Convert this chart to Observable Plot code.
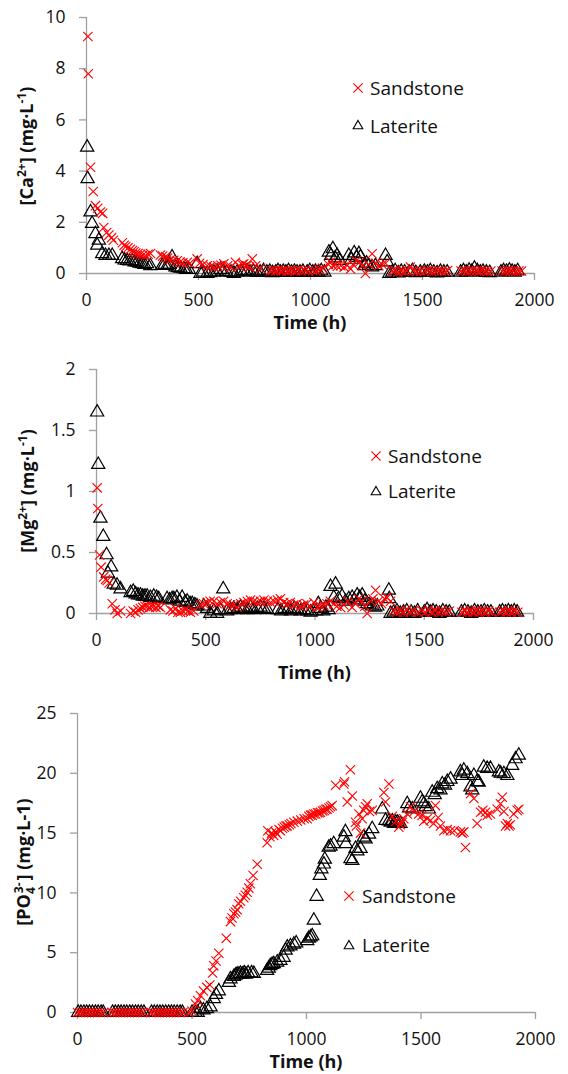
<!DOCTYPE html>
<html><head><meta charset="utf-8">
<script src="https://cdn.jsdelivr.net/npm/d3@7"></script>
<script src="https://cdn.jsdelivr.net/npm/@observablehq/plot@0.6"></script>
<style>
body{margin:0;background:#fff;}
#wrap{position:relative;width:568px;height:1074px;font-family:"Open Sans",sans-serif;}
#wrap > svg{position:absolute;left:0;}
</style></head><body><div id="wrap"></div>
<script>
const xTicks = [0, 500, 1000, 1500, 2000];
const caTicks = [0, 2, 4, 6, 8, 10];
const mgTicks = [0, 0.5, 1, 1.5, 2];
const poTicks = [0, 5, 10, 15, 20, 25];
const seriesNames = ["Sandstone", "Laterite"];

// [time (h), concentration (mg/L)]
const caSandstone = [[6,9.26],[8,7.8],[18,4.15],[30,3.2],[40,2.65],[50,2.55],[62,2.4],[72,2.35],[77,1.8],[90,1.6],[100,1.5],[112,1.4],[120,1.3],
[160,1.2],[168,1.1],[175,1.05],[185,1.0],[196,0.95],[205,0.9],[212,0.85],[220,0.8],[230,0.78],[241,0.75],[252,0.72],[263,0.7],[275,0.75],[286,0.78],
[330,0.72],[340,0.68],[353,0.65],[362,0.6],[375,0.55],[390,0.52],[405,0.5],[418,0.45],[430,0.42],[450,0.44],[462,0.4],
[494,0.57],[505,0.4],[520,0.35],[539,0.3],[555,0.28],[569,0.25],[585,0.3],[600,0.32],[613,0.38],[630,0.3],[645,0.25],[665,0.44],[680,0.3],[695,0.35],[702,0.38],[715,0.3],[728,0.25],[740,0.57],[755,0.3],[777,0.2],
[820,0.1],[832,0.12],[845,0.1],[858,0.14],[870,0.1],[880,0.12],[895,0.08],[905,0.1],[918,0.12],[930,0.1],[945,0.14],[960,0.1],[975,0.12],[990,0.1],[1010,0.12],[1025,0.1],[1040,0.15],[1055,0.2],
[1080,0.35],[1090,0.45],[1100,0.3],[1112,0.35],[1120,0.28],[1135,0.3],[1150,0.25],[1165,0.32],[1179,0.18],[1190,0.35],[1205,0.5],[1220,0.45],[1232,0.3],[1245,0.0],[1260,0.35],[1275,0.77],[1290,0.4],[1305,0.3],[1320,0.35],[1335,0.4],
[1365,0.1],[1378,0.12],[1390,0.05],[1405,0.1],[1418,0.08],[1430,0.12],[1446,0.25],[1460,0.1],[1475,0.08],[1490,0.1],[1510,0.1],[1525,0.12],[1540,0.08],[1555,0.1],[1570,0.12],[1585,0.1],[1600,0.08],[1612,0.12],
[1672,0.1],[1685,0.12],[1698,0.08],[1712,0.1],[1725,0.12],[1740,0.1],[1752,0.08],[1765,0.12],[1778,0.1],[1790,0.08],[1805,0.1],
[1855,0.1],[1868,0.08],[1880,0.12],[1892,0.1],[1905,0.1],[1918,0.08],[1930,0.1],[1942,0.1]];

const caLaterite = [[3,4.93],[5,3.7],[18,2.4],[25,1.95],[40,1.55],[48,1.1],[55,1.3],[70,0.77],[85,0.7],[100,0.7],[115,0.7],
[159,0.57],[170,0.52],[181,0.5],[192,0.48],[204,0.5],[215,0.45],[226,0.44],[237,0.4],[248,0.38],[259,0.35],[270,0.38],[285,0.3],
[338,0.31],[349,0.35],[360,0.31],[370,0.35],[382,0.64],[397,0.25],[408,0.22],[420,0.2],[435,0.18],[445,0.15],[457,0.15],
[494,0.38],[509,0.0],[520,0.05],[539,0.0],[552,0.03],[569,0.05],[582,0.08],[598,0.15],[610,0.08],[625,0.05],[645,0.05],[658,0.0],[672,0.05],[690,0.08],[705,0.1],[717,0.1],[730,0.05],[745,0.08],[760,0.05],
[775,0.05],[790,0.1],[805,0.05],[818,0.08],[830,0.03],[845,0.05],[855,0.1],
[865,0.05],[878,0.08],[890,0.05],[902,0.1],[915,0.05],[928,0.08],[940,0.05],[953,0.05],[966,0.08],[985,0.05],[997,0.1],[1010,0.05],[1022,0.08],[1035,0.05],[1048,0.1],[1062,0.05],
[1082,0.83],[1092,0.7],[1100,0.96],[1110,0.6],[1119,0.7],[1130,0.5],[1171,0.7],[1183,0.55],[1195,0.8],[1205,0.62],[1216,0.77],[1223,0.64],[1240,0.3],[1250,0.4],[1260,0.31],[1275,0.25],[1290,0.3],[1335,0.7],[1342,0.45],
[1352,0.0],[1365,0.05],[1378,0.1],[1392,0.02],[1405,0.08],[1420,0.05],[1440,0.05],[1455,0.1],[1470,0.03],[1490,0.05],[1508,0.08],[1522,0.05],[1535,0.1],[1550,0.05],[1565,0.02],[1580,0.08],[1595,0.05],[1610,0.05],
[1670,0.05],[1683,0.1],[1695,0.05],[1708,0.12],[1720,0.08],[1732,0.2],[1745,0.1],[1758,0.05],[1770,0.08],[1785,0.05],[1800,0.03],
[1850,0.05],[1862,0.1],[1875,0.08],[1888,0.12],[1900,0.08],[1912,0.05],[1925,0.1]];

const mgSandstone = [[3,1.03],[6,0.86],[14,0.48],[21,0.38],[33,0.3],[42,0.28],[49,0.27],[58,0.25],[72,0.08],[85,0.03],[95,0.0],[110,0.02],
[156,0.0],[168,0.02],[179,0.01],[190,0.03],[201,0.04],[212,0.05],[222,0.06],[232,0.06],[242,0.05],[252,0.06],[262,0.06],[272,0.05],[283,0.06],[293,0.05],
[338,0.03],[350,0.02],[362,0.04],[373,0.01],[384,0.01],[396,0.02],[408,0.03],[420,0.02],[430,0.01],[445,0.02],
[476,0.07],[490,0.08],[506,0.09],[520,0.1],[537,0.1],[552,0.08],[567,0.09],[582,0.1],[598,0.08],[613,0.07],[628,0.07],[645,0.05],[660,0.08],[675,0.09],[690,0.1],[705,0.11],[720,0.1],[736,0.09],[751,0.1],[766,0.11],[782,0.1],[797,0.09],[812,0.1],[828,0.11],[842,0.12],[857,0.09],[872,0.08],[887,0.09],[902,0.07],[918,0.08],[933,0.06],[948,0.07],[963,0.08],[978,0.06],[995,0.09],[1010,0.05],[1025,0.06],[1040,0.07],[1055,0.08],[1070,0.1],[1086,0.08],[1100,0.06],[1117,0.05],[1132,0.07],[1150,0.1],[1170,0.05],[1185,0.08],[1200,0.12],[1215,0.1],[1228,0.06],[1239,0.0],[1255,0.1],[1265,0.12],[1277,0.19],[1290,0.1],[1305,0.08],[1318,0.12],[1330,0.13],[1346,0.1],
[1360,0.02],[1375,0.01],[1391,0.02],[1405,0.01],[1420,0.03],[1435,0.01],[1450,0.02],[1470,0.01],[1490,0.02],[1505,0.01],[1520,0.03],[1535,0.01],[1550,0.02],[1565,0.01],[1580,0.02],[1598,0.01],[1615,0.02],
[1672,0.01],[1685,0.02],[1698,0.01],[1712,0.02],[1725,0.01],[1738,0.02],[1752,0.01],[1765,0.02],[1780,0.01],[1795,0.02],[1810,0.01],
[1846,0.01],[1860,0.02],[1874,0.01],[1888,0.02],[1900,0.01],[1914,0.02],[1928,0.01]];

const mgLaterite = [[3,1.65],[8,1.22],[18,0.78],[31,0.63],[46,0.48],[52,0.33],[67,0.38],[79,0.24],[94,0.23],[110,0.2],
[156,0.17],[168,0.18],[179,0.16],[190,0.15],[201,0.15],[212,0.14],[222,0.14],[232,0.14],[247,0.13],[262,0.14],[275,0.13],[285,0.12],
[323,0.12],[335,0.11],[346,0.12],[354,0.12],[368,0.13],[380,0.1],[392,0.13],[405,0.09],[415,0.1],[428,0.08],[438,0.08],[450,0.07],[460,0.06],
[491,0.06],[506,0.04],[521,0.0],[537,0.02],[552,0.0],[566,0.03],[580,0.2],[598,0.02],[613,0.03],[628,0.04],[645,0.03],[659,0.05],[675,0.04],[690,0.03],[705,0.05],[720,0.03],[736,0.04],[751,0.05],[766,0.04],[782,0.03],
[830,0.03],[845,0.02],[860,0.04],[875,0.03],[890,0.02],[905,0.04],[920,0.03],[935,0.02],[950,0.03],[965,0.02],[980,0.01],
[1005,0.02],[1015,0.08],[1025,0.04],[1038,0.02],[1050,0.05],[1062,0.03],[1071,0.22],[1086,0.13],[1094,0.24],[1108,0.12],[1124,0.14],[1140,0.1],[1155,0.12],[1170,0.13],[1180,0.11],[1193,0.15],[1205,0.13],[1216,0.15],[1228,0.1],[1239,0.08],[1250,0.07],[1262,0.06],[1275,0.05],[1285,0.06],[1338,0.19],[1340,0.12],[1346,0.0],
[1360,0.01],[1375,0.02],[1390,0.0],[1405,0.01],[1420,0.02],[1440,0.01],[1455,0.0],[1470,0.02],[1500,0.01],[1513,0.03],[1527,0.01],[1540,0.02],[1555,0.01],[1570,0.0],[1585,0.02],[1600,0.01],[1615,0.01],
[1670,0.01],[1685,0.02],[1700,0.01],[1715,0.0],[1730,0.02],[1745,0.01],[1760,0.01],[1775,0.02],[1790,0.01],[1805,0.01],
[1845,0.01],[1858,0.02],[1872,0.01],[1885,0.02],[1898,0.01],[1912,0.02],[1925,0.01]];

const poSandstone = [[0,0],[12,0],[25,0],[38,0],[50,0],[62,0],[75,0],[88,0],[100,0],[115,0],
[150,0],[162,0],[175,0],[188,0],[200,0],[212,0],[225,0],[238,0],[250,0],[262,0],[275,0],[288,0],
[320,0],[332,0],[345,0],[358,0],[370,0],[382,0],[395,0],[408,0],[420,0],[432,0],[445,0],[460,0],
[485,0],[500,0.1],[515,0.7],[525,1.0],[537,1.4],[550,1.8],[565,2.1],[578,2.3],[590,3.3],[595,3.9],[605,4.3],[617,4.96],[650,6.2],
[668,7.6],[675,7.9],[683,8.25],[690,8.4],[697,8.6],[704,9.1],[712,9.3],[726,9.6],[733,9.8],[741,10.06],[748,10.4],[755,10.76],[767,11.45],[785,12.4],
[828,14.2],[831,15.2],[840,14.7],[848,15.0],[857,14.8],[865,15.1],[872,14.9],[880,15.3],[886,15.2],[895,15.4],[903,15.5],[910,15.6],[916,15.6],[925,15.7],[932,15.8],[945,15.9],[960,16.0],[975,16.1],[990,16.2],[1003,16.2],[1010,16.4],[1018,16.5],[1025,16.5],[1032,16.6],[1040,16.6],[1048,16.7],[1055,16.7],[1061,16.75],[1070,16.85],[1077,16.9],[1084,17.0],[1090,17.0],[1098,17.1],[1105,17.2],[1112,17.3],
[1127,19.0],[1163,19.1],[1166,19.3],[1178,17.6],[1192,20.3],[1200,18.1],[1214,15.9],[1218,15.6],[1229,16.6],[1236,15.0],[1243,16.2],[1250,16.9],[1258,17.2],[1265,17.45],[1275,16.8],[1287,16.9],
[1338,18.4],[1345,17.6],[1360,19.1],[1375,16.4],[1390,16.0],[1403,15.5],[1410,15.7],[1418,15.9],[1425,16.2],[1440,16.6],[1454,17.2],[1470,16.8],[1490,16.6],[1505,16.5],[1512,16.0],[1527,16.2],[1541,16.05],[1555,15.8],[1563,17.3],[1575,16.3],[1585,15.6],[1600,15.2],[1615,15.3],[1629,15.2],[1645,15.2],
[1672,15.1],[1680,15.0],[1687,15.1],[1694,13.8],[1716,18.3],[1731,17.9],[1745,15.8],[1760,16.75],[1770,16.9],[1782,16.75],[1790,16.5],[1803,16.6],
[1833,17.0],[1847,17.45],[1855,18.0],[1862,16.8],[1869,15.6],[1877,15.8],[1884,15.6],[1890,15.7],[1905,16.6],[1920,16.9],[1927,17.0]];

const poLaterite = [[3,0],[15,0],[28,0],[40,0],[52,0],[65,0],[78,0],[90,0],[103,0],[112,0],
[153,0],[165,0],[178,0],[190,0],[203,0],[215,0],[228,0],[240,0],[253,0],[265,0],[278,0],[290,0],
[323,0],[335,0],[348,0],[360,0],[372,0],[385,0],[398,0],[410,0],[422,0],[435,0],[448,0],[458,0],
[500,0],[515,0],[525,0],[537,0.3],[550,0.2],[565,0.3],[581,0.45],[595,1.15],[605,1.5],[617,1.8],
[661,2.5],[668,2.8],[683,3.0],[690,3.1],[697,3.2],[705,3.2],[712,3.25],[720,3.2],[728,3.3],[735,3.2],[745,3.3],[760,3.3],[770,3.25],
[828,3.5],[835,3.7],[842,3.9],[850,4.0],[857,4.07],[872,4.2],[886,4.35],[900,4.6],[909,5.2],[916,5.46],[930,5.55],[945,5.7],[955,5.8],
[1003,6.0],[1010,6.2],[1018,6.3],[1025,6.4],[1032,7.7],[1044,9.7],[1058,11.45],[1065,12.0],[1076,12.4],[1080,12.8],[1097,13.8],[1105,13.9],[1119,14.1],
[1163,14.65],[1170,15.1],[1172,14.1],[1192,12.85],[1200,12.7],[1214,13.7],[1222,13.5],[1236,13.7],[1250,14.65],[1258,14.5],[1273,14.9],[1287,15.35],
[1331,17.0],[1345,16.05],[1360,16.0],[1368,15.9],[1375,16.0],[1382,15.8],[1390,15.9],[1398,15.9],[1410,15.8],[1440,17.45],[1448,17.1],[1462,17.0],
[1498,17.9],[1505,17.6],[1513,17.45],[1520,17.2],[1534,17.0],[1549,18.4],[1560,18.2],[1571,18.7],[1585,18.6],[1593,19.1],[1605,19.0],[1615,19.3],[1629,19.5],
[1672,20.1],[1680,19.8],[1687,20.25],[1702,19.95],[1716,18.85],[1724,18.6],[1731,19.8],[1745,19.3],[1752,19.25],[1774,20.5],[1789,20.4],[1803,20.4],
[1840,20.1],[1848,20.0],[1862,19.95],[1877,19.8],[1898,20.65],[1913,21.2],[1927,21.5]];

const RED = "#ff0000", AXIS = "#a0a0a0";
const wrap = d3.select("#wrap");

function addLabelParts(textSel, parts) {
  let shift = 0;
  for (const [t, kind, dx] of parts) {
    const ts = textSel.append("tspan").text(t);
    let target = 0;
    if (kind === "sup") { target = -7; ts.attr("font-size", 12); }
    else if (kind === "sub") { target = 5; ts.attr("font-size", 12); }
    ts.attr("dy", target - shift);
    if (dx) ts.attr("dx", dx);
    shift = target;
  }
}

function panel(o) {
  const chart = Plot.plot({
    width: 568, height: o.height,
    marginTop: o.mt, marginBottom: o.mb, marginLeft: o.ml, marginRight: o.mr,
    style: {fontFamily: "Open Sans", fontSize: "17.5px", color: "#111", background: "transparent", overflow: "visible"},
    x: {domain: [0, 2000], label: null},
    y: {domain: [0, o.yMax], label: null},
    marks: [
      Plot.axisX({ticks: xTicks, tickSize: 7, tickPadding: 13, stroke: AXIS, strokeWidth: 1.3, label: null, tickFormat: d => String(d)}),
      Plot.axisY({ticks: o.yTicks, tickSize: 7, tickPadding: 14, stroke: AXIS, strokeWidth: 1.3, label: null, tickFormat: d => String(d)}),
      Plot.ruleY([0], {stroke: AXIS, strokeWidth: 1.3}),
      Plot.ruleX([0], {stroke: AXIS, strokeWidth: 1.3}),
      Plot.dot(o.lat, {x: d => d[0], y: d => d[1], symbol: "triangle", r: 4.9, stroke: "#000", fill: "none", strokeWidth: 1.2}),
      Plot.dot(o.sand, {x: d => d[0], y: d => d[1], symbol: "times", r: 4.3, stroke: RED, strokeWidth: 1.1})
    ]
  });
  const svg = d3.select(chart).style("top", o.top + "px");
  const yl = svg.append("text")
    .attr("transform", `translate(${o.ylx},${o.yly}) rotate(-90)`)
    .attr("text-anchor", "middle").attr("font-weight", "bold").attr("font-size", 18).attr("fill", "#111");
  addLabelParts(yl, o.ylabel);
  svg.append("text").attr("x", (o.ml + 568 - o.mr) / 2).attr("y", o.xly)
    .attr("text-anchor", "middle").attr("font-weight", "bold").attr("font-size", 18).attr("fill", "#111")
    .text("Time (h)");
  const lg = svg.append("g").attr("text-anchor", "start");
  const sym = [d3.symbolTimes, d3.symbolTriangle2];
  const sizes = [4.3, 4.6];
  o.legend.forEach(([sx, sy, tx, ty], i) => {
    const r = sizes[i];
    lg.append("path").attr("transform", `translate(${sx},${sy})`)
      .attr("d", d3.symbol(sym[i], r * r * Math.PI)())
      .attr("fill", "none").attr("stroke", i === 0 ? RED : "#000").attr("stroke-width", 1.1);
    lg.append("text").attr("x", tx).attr("y", ty).attr("text-anchor", "start")
      .attr("font-size", 19).attr("fill", "#111").text(seriesNames[i]);
  });
  wrap.node().appendChild(chart);
}

panel({top: 0, height: 345, mt: 17, mb: 72, ml: 86, mr: 34, yMax: 10, yTicks: caTicks,
  sand: caSandstone, lat: caLaterite, ylx: 33, yly: 146, xly: 329,
  ylabel: [["[Ca","n"],["2+","sup"],["] (mg·L","n"],["-1","sup"],[")","n"]],
  legend: [[358,88,370,95],[358,126,370,133]]});

panel({top: 345, height: 340, mt: 24, mb: 72, ml: 96, mr: 35, yMax: 2, yTicks: mgTicks,
  sand: mgSandstone, lat: mgLaterite, ylx: 34, yly: 146, xly: 334,
  ylabel: [["[Mg","n"],["2+","sup"],["] (mg·L","n"],["-1","sup"],[")","n"]],
  legend: [[376,111,388,118],[376,147,388,153]]});

panel({top: 685, height: 389, mt: 28, mb: 62, ml: 77, mr: 33, yMax: 25, yTicks: poTicks,
  sand: poSandstone, lat: poLaterite, ylx: 30, yly: 177, xly: 383,
  ylabel: [["[PO","n"],["4","sub"],["3-","sup",-6],["] (mg·L-1)","n",2]],
  legend: [[349,211,362,218],[349,261,362,267]]});
</script></body></html>
